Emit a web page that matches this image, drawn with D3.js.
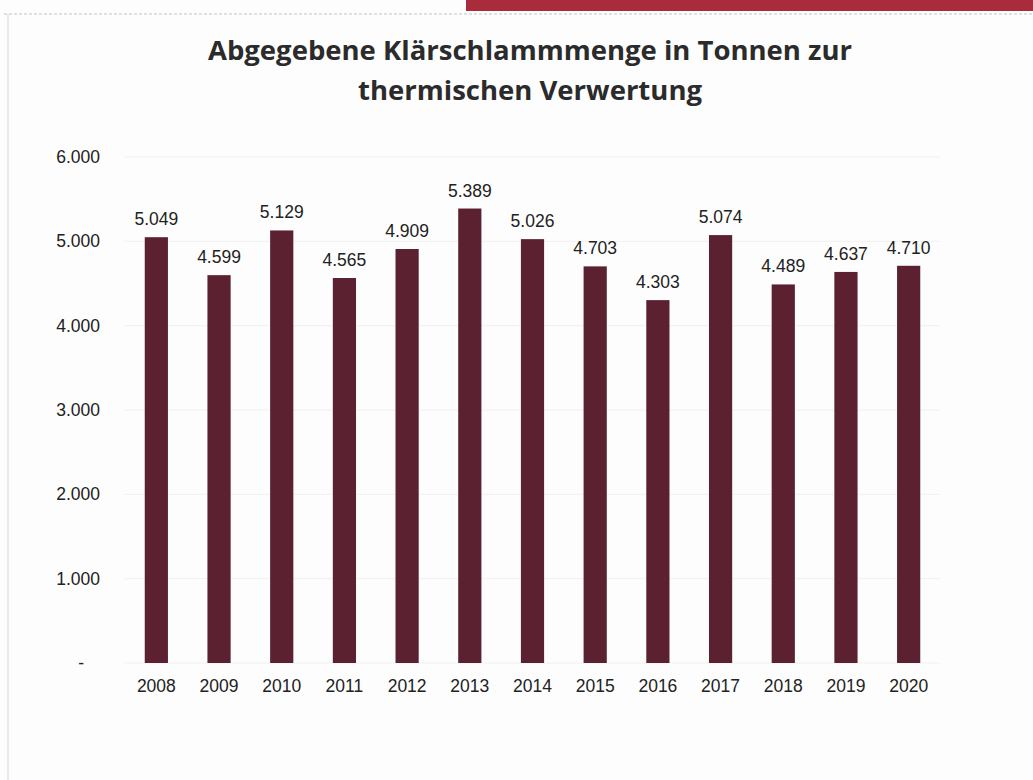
<!DOCTYPE html>
<html lang="de">
<head>
    <meta charset="UTF-8">
    <title>Klärschlamm</title>
    <script src="https://d3js.org/d3.v7.min.js"></script>
    <style>
        body { margin: 0; background: #fff; }
        text { font-family: "Liberation Sans", Arial, sans-serif; }
        .title { font-family: "Open Sans", sans-serif; font-weight: 700; fill: #2b2b2b; }
    </style>
</head>
<body>
<div id="chart"></div>
<script>
var years = ["2008", "2009", "2010", "2011", "2012", "2013", "2014", "2015", "2016", "2017", "2018", "2019", "2020"];
var tonnen = [5049, 4599, 5129, 4565, 4909, 5389, 5026, 4703, 4303, 5074, 4489, 4637, 4710];
var yTicks = [0, 1000, 2000, 3000, 4000, 5000, 6000];
var titleLines = ["Abgegebene Klärschlammmenge in Tonnen zur", "thermischen Verwertung"];

var width = 1033, height = 780;
var margin = { top: 157, right: 93, bottom: 117, left: 125 };

var svg = d3.select("#chart").append("svg")
    .attr("width", width)
    .attr("height", height);

// scanned page frame
svg.append("rect").attr("x", 0).attr("y", 0).attr("width", width).attr("height", height).attr("fill", "#fdfdfd");
svg.append("rect").attr("x", 466).attr("y", 0).attr("width", 567).attr("height", 11).attr("fill", "#a92c3c");
svg.append("line").attr("x1", 4).attr("x2", 1033).attr("y1", 14).attr("y2", 14)
    .attr("stroke", "#d6d6d6").attr("stroke-width", 1.5).attr("stroke-dasharray", "3,2");
svg.append("line").attr("x1", 8).attr("x2", 8).attr("y1", 14).attr("y2", 780)
    .attr("stroke", "#e2e2e2").attr("stroke-width", 1.5);

svg.selectAll(".title").data(titleLines).join("text")
    .attr("class", "title")
    .attr("x", 530)
    .attr("y", (d, i) => 60 + i * 40)
    .attr("text-anchor", "middle")
    .attr("font-size", 27.5)
    .text(d => d);

var x = d3.scaleBand()
    .domain(years)
    .range([margin.left, width - margin.right])
    .paddingInner(0.63)
    .paddingOuter(0.315);

var y = d3.scaleLinear()
    .domain([0, 6000])
    .range([663, margin.top]);

var fmt = d3.formatLocale({ decimal: ",", thousands: ".", grouping: [3], currency: ["", "€"] }).format(",");

// faint gridlines
svg.append("g")
    .selectAll("line").data(yTicks).join("line")
    .attr("x1", margin.left).attr("x2", width - margin.right)
    .attr("y1", d => y(d)).attr("y2", d => y(d))
    .attr("stroke", "#f0f0f0").attr("stroke-width", 1);

var yAxis = svg.append("g")
    .attr("transform", "translate(" + (margin.left - 22) + ",0)")
    .call(d3.axisLeft(y).tickValues(yTicks).tickSize(0).tickFormat(d => d === 0 ? "-" : fmt(d)));
yAxis.select(".domain").remove();
yAxis.selectAll("text").attr("font-size", 17.5).attr("fill", "#222")
    .attr("font-family", "Liberation Sans, Arial, sans-serif");
// accounting style: zero dash sits left of the digits
yAxis.selectAll(".tick").filter(d => d === 0).select("text").attr("dx", -16);

var xAxis = svg.append("g")
    .attr("transform", "translate(0," + y(0) + ")")
    .call(d3.axisBottom(x).tickSize(0).tickPadding(17));
xAxis.select(".domain").remove();
xAxis.selectAll("text").attr("font-size", 17.5).attr("fill", "#222")
    .attr("font-family", "Liberation Sans, Arial, sans-serif");

var data = years.map((yr, i) => ({ year: yr, value: tonnen[i] }));

svg.append("g").selectAll("rect").data(data).join("rect")
    .attr("x", d => x(d.year))
    .attr("y", d => y(d.value))
    .attr("width", x.bandwidth())
    .attr("height", d => y(0) - y(d.value))
    .attr("fill", "#5b2130");

svg.append("g").selectAll("text").data(data).join("text")
    .attr("x", d => x(d.year) + x.bandwidth() / 2)
    .attr("y", d => y(d.value) - 12)
    .attr("text-anchor", "middle")
    .attr("font-size", 17.5)
    .attr("fill", "#222")
    .text(d => fmt(d.value));
</script>
</body>
</html>
